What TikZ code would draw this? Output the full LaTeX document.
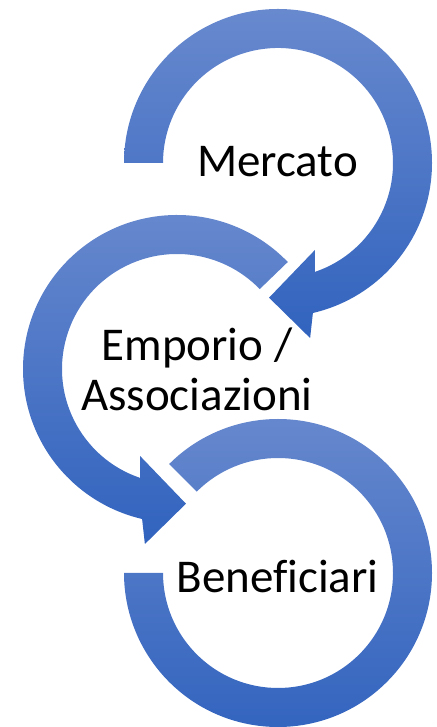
\documentclass[tikz,border=0pt]{standalone}
\usepackage{fontspec}
\setmainfont{Carlito}[Ligatures=NoCommon]
\definecolor{ringTop}{RGB}{104,137,206}
\definecolor{ringBottom}{RGB}{49,99,190}
\tikzset{
    every node/.style={align=center,},
    stage/.style={font=\fontsize{47}{50}\selectfont,inner sep=0pt,},
    ring/.style={top color=ringTop,bottom color=ringBottom,draw=none,},
}

\begin{document}
\begin{tikzpicture}[x=1pt,y=1pt]
                \useasboundingbox (0,0) rectangle (436,727);

                \coordinate (c1) at (278,564);
                \coordinate (c2) at (177,358);
                \coordinate (c3) at (278,154);

                \begin{scope}[shift={(c3)}]
                    \path[ring] (135:154) arc[start angle=135,end angle=-180,radius=154]
                        -- (180:115) arc[start angle=-180,end angle=135,radius=115] -- cycle;
                \end{scope}
                \begin{scope}[shift={(c2)}]
                    \path[ring] (44:154) arc[start angle=44,end angle=256.9,radius=154]
                        -- (259.6:178) -- (273.8:135) -- (247:94.5) -- (251.3:115)
                        arc[start angle=251.3,end angle=44,radius=115] -- cycle;
                \end{scope}
                \begin{scope}[shift={(c1)}]
                    \path[ring] (180:154) arc[start angle=180,end angle=-76.9,radius=154]
                        -- (-79.6:178) -- (-93.8:135) -- (-67:94.5) -- (-71.3:115)
                        arc[start angle=-71.3,end angle=180,radius=115] -- cycle;
                \end{scope}

                \node[stage,anchor=base] (mercato) at (277.5,550) {Mercato};
                \node[stage] (emporio) at (197,358) {Emporio /\\Associazioni};
                \node[stage,anchor=base] (beneficiari) at (277.5,134) {Beneficiari};
            \end{tikzpicture}
\end{document}
